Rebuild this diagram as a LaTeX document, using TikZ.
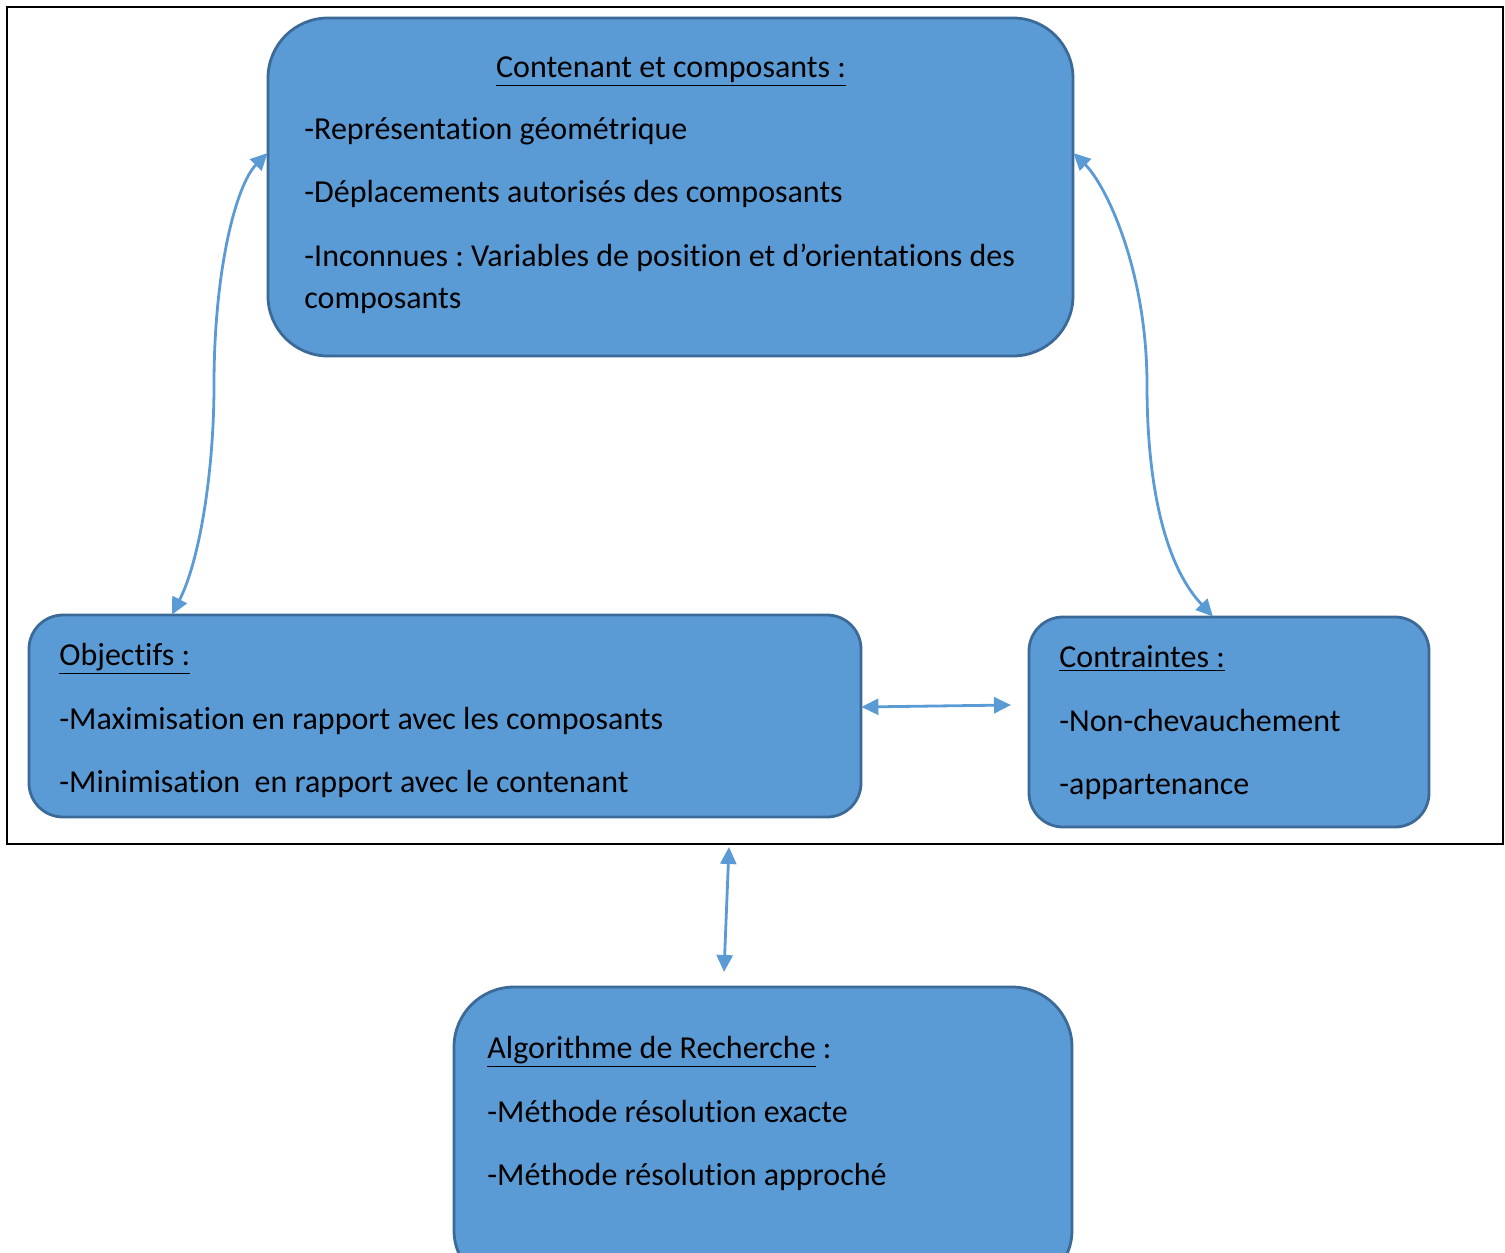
\documentclass[tikz,border=0pt]{standalone}
\usepackage{fontspec}
\setmainfont{Carlito}[Ligatures=NoCommon]
\frenchspacing
\usetikzlibrary{arrows.meta}
\definecolor{boxfill}{HTML}{5B9BD5}
\definecolor{boxline}{HTML}{3C6A98}
\definecolor{linkcol}{HTML}{5B9BD5}
\begin{document}
\begin{tikzpicture}[x=0.5pt,y=-0.5pt,
  panel/.style={draw=boxline,fill=boxfill,line width=1.4pt,inner sep=0pt},
  txt/.style={anchor=base west,inner sep=0pt,font=\fontsize{16}{19}\selectfont},
  link/.style={draw=linkcol,line width=1.4pt,{Triangle[length=8.5pt,width=8pt]}-{Triangle[length=8.5pt,width=8pt]}}]
\useasboundingbox (0,0) rectangle (1505,1253);
\clip (0,0) rectangle (1505,1253);
% outer frame
\draw[line width=1pt] (7,7) rectangle (1503,844);
% boxes
\draw[panel,rounded corners=30pt] (268,18) rectangle (1073,356);
\node[inner sep=0pt,minimum width=402.5pt,minimum height=169pt] (top) at (670.5,187) {};
\draw[panel,rounded corners=17pt] (29,615) rectangle (861,817);
\node[inner sep=0pt,minimum width=416pt,minimum height=101pt] (obj) at (445,716) {};
\draw[panel,rounded corners=17pt] (1029,617) rectangle (1429,827);
\node[inner sep=0pt,minimum width=200pt,minimum height=105pt] (con) at (1229,722) {};
\draw[panel,rounded corners=30pt] (454,987) rectangle (1072,1290);
\node[inner sep=0pt,minimum width=309pt,minimum height=151.5pt] (alg) at (763,1138.5) {};
% texts of the top box
\node[txt,anchor=base] (t0) at (671,77) {\underline{Contenant et composants :}};
\node[txt] (t1) at (304,139) {-Représentation géométrique};
\node[txt] (t2) at (304,202) {-Déplacements autorisés des composants};
\node[txt] (t3) at (304,266) {-Inconnues : Variables de position et d’orientations des};
\node[txt] (t4) at (304,308) {composants};
% texts of the objectives box
\node[txt] (o0) at (59,665) {\underline{Objectifs :}};
\node[txt] (o1) at (59,729) {-Maximisation en rapport avec les composants};
\node[txt] (o2) at (59,792) {-Minimisation\ \ en rapport avec le contenant};
% texts of the constraints box
\node[txt] (c0) at (1059,667) {\underline{Contraintes :}};
\node[txt] (c1) at (1059,731) {-Non-chevauchement};
\node[txt] (c2) at (1059,794) {-appartenance};
% texts of the search box
\node[txt] (a0) at (487,1058) {\underline{Algorithme de Recherche} :};
\node[txt] (a1) at (487,1122) {-Méthode résolution exacte};
\node[txt] (a2) at (487,1185) {-Méthode résolution approché};
% connectors
\coordinate (lmid) at (214,385);
\coordinate (rmid) at (1147,385);
\coordinate (hend) at (1011,705);
\coordinate (vtop) at (729,847);
\coordinate (vbot) at (724,972);
\draw[link] ([xshift=-136.5pt]obj.north) .. controls (200,560) and (214,470) .. (lmid)
  .. controls (214,270) and (236,185) .. ([yshift=17pt]top.west);
\draw[link] ([xshift=-8pt]con.north) .. controls (1160,560) and (1147,470) .. (rmid)
  .. controls (1147,270) and (1106,185) .. ([yshift=17pt]top.east);
\draw[link] ([yshift=4.5pt]obj.east) -- (935,706) -- (hend);
\draw[link] (vtop) -- (vbot);
\end{tikzpicture}
\end{document}
